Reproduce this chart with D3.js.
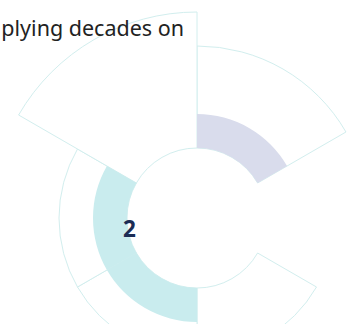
<!DOCTYPE html>
<html>
<head>
<meta charset="utf-8">
<script src="https://cdn.jsdelivr.net/npm/d3@7"></script>
<style>
  body { margin: 0; background: #fff; overflow: hidden; }
</style>
</head>
<body>
<script>
var categories = ["c1", "c2", "c3", "c4", "c5", "c6"]
var maxValues = [3, 0, 2, 2, 2, 4]      // outlined wedge
var values = [1, 0, 0, 1, 1, 0]         // filled wedge
var fillColors = ["#d9dcec", "#d9dcec", "#c9ecee", "#c9ecee", "#c9ecee", "#c9ecee"]
var titleText = "plying decades on"
var centerLabel = "2"

var width = 352, height = 324
var cx = 197, cy = 218

var angle = d3.scaleBand()
              .domain(categories)
              .range([0, 2 * Math.PI])

var radius = d3.scaleLinear()
               .domain([0, 4])
               .range([70, 206])

var svg = d3.select("body")
            .append("svg")
            .attr("width", width)
            .attr("height", height)

var g = svg.append("g")
           .attr("transform", "translate(" + cx + "," + cy + ")")

var arc = d3.arc()
            .innerRadius(radius(0))
            .startAngle(d => angle(d.cat))
            .endAngle(d => angle(d.cat) + angle.bandwidth())
            .outerRadius(d => radius(d.v))

var rows = categories.map((c, i) => ({cat: c, max: maxValues[i], v: values[i], color: fillColors[i]}))

g.selectAll(".outline")
 .data(rows.filter(d => d.max > 0))
 .enter()
 .append("path")
 .attr("class", "outline")
 .attr("d", d => arc({cat: d.cat, v: d.max}))
 .attr("fill", "#fff")
 .attr("stroke", "#d2eeee")
 .attr("stroke-width", 1)

g.selectAll(".value")
 .data(rows.filter(d => d.v > 0))
 .enter()
 .append("path")
 .attr("class", "value")
 .attr("d", arc)
 .attr("fill", d => d.color)

svg.append("text")
   .attr("x", 184)
   .attr("y", 36)
   .attr("text-anchor", "end")
   .attr("font-family", "Noto Sans, sans-serif")
   .attr("font-size", 21.5)
   .attr("fill", "#222")
   .text(titleText)

svg.append("text")
   .attr("x", 129.5)
   .attr("y", 237)
   .attr("text-anchor", "middle")
   .attr("font-family", "Noto Sans, sans-serif")
   .attr("font-weight", "bold")
   .attr("font-size", 22.5)
   .attr("fill", "#1b2d55")
   .text(centerLabel)
</script>
</body>
</html>
